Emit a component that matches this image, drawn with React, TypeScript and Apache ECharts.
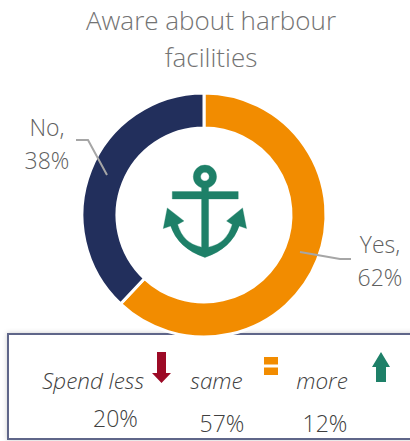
import React, { useEffect, useRef } from "react";
import * as echarts from "echarts";

const titleLines = ["Aware about harbour", "facilities"];
const answers = ["Yes", "No"];
const shares = [62, 38];
const sliceColors = ["#F28C00", "#222F5C"];
const spendLabels = ["Spend less", "same", "more"];
const spendValues = ["20%", "57%", "12%"];

const FONT = "'Open Sans', sans-serif";

const ANCHOR =
  "M225 75 A35 35 0 0 1 225 145 A35 35 0 0 1 225 75 Z " +
  "M225 97 A13 13 0 0 0 225 123 A13 13 0 0 0 225 97 Z " +
  "M127 155 L215 155 L215 140 L236 140 L236 155 L325 155 L325 177 L236 177 L236 322 " +
  "Q290 312 307 254 L290 243 L338 204 L350 266 L328 258 Q306 325 225 353 Q144 325 122 258 L100 266 L112 204 L162 243 L143 254 " +
  "Q160 312 215 322 L215 177 L127 177 Z";
echarts.graphic.registerShape("anchorIcon", (echarts.graphic as any).extendPath(ANCHOR, {}));

export default function App() {
  const ref = useRef<HTMLDivElement>(null);
  useEffect(() => {
    const chart = echarts.init(ref.current!, undefined, { renderer: "svg" });
    const spendX = [93, 216.5, 322];
    const valueX = [115.5, 222, 325];
    const valueY = [418, 423, 423];
    chart.setOption({
      animation: false,
      backgroundColor: "#ffffff",
      title: {
        text: titleLines.join("\n"),
        left: 206,
        top: -4,
        textAlign: "center",
        textStyle: { fontFamily: FONT, fontWeight: 300, fontSize: 26, lineHeight: 37, color: "#737373" },
      },
      series: [
        {
          type: "pie",
          z: 3,
          center: [204, 215],
          radius: [87, 122],
          startAngle: 90,
          clockwise: true,
          silent: true,
          itemStyle: { borderColor: "#ffffff", borderWidth: 3 },
          data: answers.map((name, i) => ({
            name,
            value: shares[i],
            itemStyle: { color: sliceColors[i] },
          })),
          label: {
            show: true,
            formatter: "{b},\n{c}%",
            fontFamily: FONT,
            fontWeight: 300,
            fontSize: 23,
            lineHeight: 33,
            color: "#5f5f5f",
            align: "center",
            overflow: "none",
          },
          labelLine: { show: false },
          labelLayout: (p: any) =>
            p.dataIndex === 0
              ? { x: 380, y: 260, align: "center", verticalAlign: "middle" }
              : { x: 47, y: 143, align: "center", verticalAlign: "middle" },
        },
      ],
      graphic: [
        {
          type: "rect",
          z: 1,
          shape: { x: 8, y: 334, width: 420, height: 105 },
          style: {
            fill: "#ffffff",
            stroke: "#5F6689",
            lineWidth: 2,
            shadowBlur: 5,
            shadowColor: "rgba(0,0,0,0.2)",
          },
        },
        {
          type: "polyline",
          z: 5,
          shape: { points: [[76, 140], [88, 140], [107, 175]] },
          style: { stroke: "#A6A6A6", lineWidth: 2, fill: "none" },
        },
        {
          type: "polyline",
          z: 5,
          shape: { points: [[300, 252], [340, 259], [351, 259]] },
          style: { stroke: "#A6A6A6", lineWidth: 2, fill: "none" },
        },
        {
          type: "anchorIcon",
          z: 5,
          x: 130,
          y: 140,
          scaleX: 1 / 3,
          scaleY: 1 / 3,
          style: { fill: "#1E8068", stroke: "#1E8068", lineWidth: 1, lineJoin: "round" },
        },
        {
          type: "polygon",
          z: 5,
          shape: { points: [[157, 352], [166, 352], [166, 373], [171, 373], [161.5, 383], [152, 373], [157, 373]] },
          style: { fill: "#9C0A26" },
        },
        { type: "rect", z: 5, shape: { x: 264, y: 357, width: 14, height: 7.5 }, style: { fill: "#F28C00" } },
        { type: "rect", z: 5, shape: { x: 264, y: 367.5, width: 14, height: 7.5 }, style: { fill: "#F28C00" } },
        {
          type: "polygon",
          z: 5,
          shape: { points: [[381, 352], [390, 367], [386, 367], [386, 382], [376, 382], [376, 367], [372, 367]] },
          style: { fill: "#1E8068" },
        },
        ...spendLabels.map((t, i) => ({
          type: "text",
          z: 5,
          x: spendX[i],
          y: 380,
          style: {
            text: t,
            fontFamily: FONT,
            fontWeight: 300,
            fontStyle: "italic",
            fontSize: 22.5,
            fill: "#404040",
            align: "center",
            verticalAlign: "middle",
          },
        })),
        ...spendValues.map((t, i) => ({
          type: "text",
          z: 5,
          x: valueX[i],
          y: valueY[i],
          style: {
            text: t,
            fontFamily: FONT,
            fontWeight: 300,
            fontSize: 23,
            fill: "#404040",
            align: "center",
            verticalAlign: "middle",
          },
        })),
      ],
    });
    return () => chart.dispose();
  }, []);
  return <div ref={ref} style={{ position: "fixed", left: 0, top: 0, width: 410, height: 441 }} />;
}
